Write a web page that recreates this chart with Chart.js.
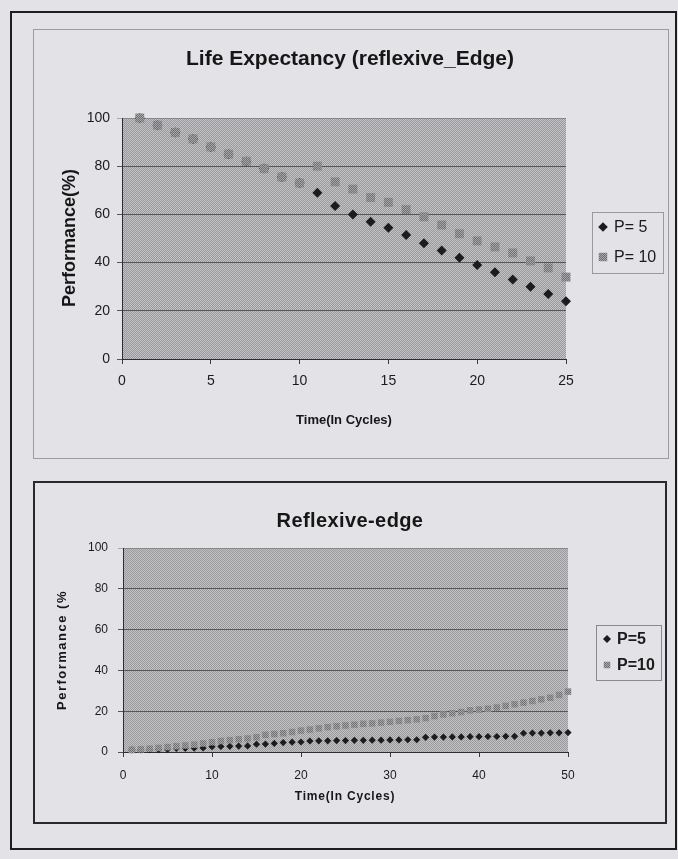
<!DOCTYPE html>
<html>
<head>
<meta charset="utf-8">
<title>Life Expectancy / Reflexive-edge</title>
<script src="https://cdn.jsdelivr.net/npm/chart.js@4/dist/chart.umd.min.js"></script>
<style>
  html, body { margin: 0; padding: 0; background: #e3e3e7; }
  body { width: 678px; height: 859px; position: relative; overflow: hidden; }
  .frame { position: absolute; box-sizing: border-box; }
  #outer { left: 10px; top: 11px; width: 667px; height: 839px; border: 2px solid #1e1e1e; }
  #box1 { left: 33px; top: 29px; width: 636px; height: 430px; border: 1px solid #9c9c9e; }
  #box2 { left: 33px; top: 481px; width: 634px; height: 343px; border: 2px solid #2a2a2a; }
  canvas { position: absolute; }
  #lifeChart { left: 34px; top: 30px; }
  #reflexChart { left: 35px; top: 482px; }
</style>
</head>
<body>
<div class="frame" id="outer"></div>
<div class="frame" id="box1"></div>
<div class="frame" id="box2"></div>
<canvas id="lifeChart" width="633" height="427"></canvas>
<canvas id="reflexChart" width="630" height="340"></canvas>
<script>
// ---- data ----
const lifeCycles = [1, 2, 3, 4, 5, 6, 7, 8, 9, 10, 11, 12, 13, 14, 15, 16, 17, 18, 19, 20, 21, 22, 23, 24, 25];
const lifeP5  = [100, 97, 94, 91.3, 88, 85, 82, 79, 75.5, 73, 69, 63.5, 60, 57, 54.5, 51.5, 48, 45, 42, 39, 36, 33, 30, 27, 24];
const lifeP10 = [100, 97, 94, 91.3, 88, 85, 82, 79, 75.5, 73, 80, 73.5, 70.5, 67, 65, 62, 59, 55.6, 52, 49, 46.5, 44, 40.7, 37.8, 34];

const reflexCycles = [1, 2, 3, 4, 5, 6, 7, 8, 9, 10, 11, 12, 13, 14, 15, 16, 17, 18, 19, 20, 21, 22, 23, 24, 25,
                      26, 27, 28, 29, 30, 31, 32, 33, 34, 35, 36, 37, 38, 39, 40, 41, 42, 43, 44, 45, 46, 47, 48, 49, 50];
const reflexP5  = [1.0, 1.0, 1.1, 1.2, 1.3, 1.8, 1.8, 1.9, 2.0, 2.6, 2.7, 2.8, 2.9, 3.0, 3.8, 3.9, 4.2, 4.6, 4.8, 4.9,
                   5.4, 5.5, 5.5, 5.6, 5.6, 5.7, 5.7, 5.8, 5.8, 5.9, 5.9, 6.0, 6.0, 7.2, 7.3, 7.3, 7.4, 7.4, 7.5, 7.5,
                   7.6, 7.6, 7.7, 7.7, 9.2, 9.3, 9.3, 9.4, 9.4, 9.5];
const reflexP10 = [1.0, 1.3, 1.6, 2.0, 2.4, 2.8, 3.2, 3.6, 4.2, 4.8, 5.4, 5.8, 6.2, 6.6, 7.2, 8.4, 8.8, 9.2, 9.8, 10.5,
                   11.0, 11.6, 12.2, 12.6, 13.0, 13.4, 13.8, 14.0, 14.4, 14.8, 15.2, 15.6, 16.0, 16.6, 17.6, 18.4, 19.0, 19.6, 20.4, 20.8,
                   21.2, 21.8, 22.6, 23.4, 24.2, 25.0, 25.8, 26.6, 28.0, 29.6];

const perfTicks = [0, 20, 40, 60, 80, 100];
const lifeTimeTicks = [0, 5, 10, 15, 20, 25];
const reflexTimeTicks = [0, 10, 20, 30, 40, 50];

// ---- styling helpers ----
const FONT = '"Liberation Sans", Arial, Helvetica, sans-serif';
Chart.defaults.font.family = FONT;
Chart.defaults.color = '#1b1b1b';

function makePattern(base, ink, size) {
  const c = document.createElement('canvas');
  c.width = c.height = size;
  const g = c.getContext('2d');
  g.fillStyle = base;
  g.fillRect(0, 0, size, size);
  g.fillStyle = ink;
  for (let i = 0; i < size; i++) {
    g.fillRect(i, size - 1 - i, 1, 1);
    g.fillRect((i + 2) % size, size - 1 - i, 1, 1);
  }
  return g.createPattern(c, 'repeat');
}
const plotPattern = makePattern('#c2c2c4', '#9a9a9c', 4);
const markerPattern = makePattern('#a8a8aa', '#6e6e70', 4);

function toPoints(xs, ys) {
  return xs.map((x, i) => ({ x: x, y: ys[i] }));
}

// hatched plot-area background
const plotFill = {
  id: 'plotFill',
  beforeDraw(chart) {
    const { ctx, chartArea: a } = chart;
    ctx.save();
    ctx.fillStyle = plotPattern;
    ctx.fillRect(a.left, a.top, a.right - a.left, a.bottom - a.top);
    ctx.restore();
  }
};

function drawMarker(ctx, style, x, y, r, fill) {
  ctx.beginPath();
  if (style === 'rectRot') {
    ctx.moveTo(x, y - r); ctx.lineTo(x + r, y); ctx.lineTo(x, y + r); ctx.lineTo(x - r, y);
  } else {
    const s = Math.SQRT1_2 * r;
    ctx.rect(x - s, y - s, 2 * s, 2 * s);
  }
  ctx.closePath();
  ctx.fillStyle = fill;
  ctx.fill();
}

// framed legend to the right of the plot
const boxLegend = {
  id: 'boxLegend',
  afterDraw(chart, args, o) {
    const ctx = chart.ctx;
    ctx.save();
    ctx.strokeStyle = o.border;
    ctx.lineWidth = 1;
    ctx.strokeRect(o.x + 0.5, o.y + 0.5, o.w, o.h);
    ctx.font = o.font;
    ctx.textBaseline = 'middle';
    chart.data.datasets.forEach((ds, i) => {
      const ry = o.rows[i];
      drawMarker(ctx, ds.pointStyle, o.markerX, ry, o.markerR[i], ds.pointBackgroundColor);
      ctx.fillStyle = '#1b1b1b';
      ctx.fillText(ds.label, o.textX, ry + 1);
    });
    ctx.restore();
  }
};

// chart title and axis titles, with optional letter spacing
const textLabels = {
  id: 'textLabels',
  afterDraw(chart, args, o) {
    const ctx = chart.ctx;
    o.items.forEach(t => {
      ctx.save();
      ctx.font = t.font;
      ctx.fillStyle = '#161616';
      ctx.textAlign = 'center';
      ctx.textBaseline = 'middle';
      if ('letterSpacing' in ctx) ctx.letterSpacing = (t.spacing || 0) + 'px';
      ctx.translate(t.x, t.y);
      if (t.rotate) ctx.rotate(t.rotate);
      ctx.fillText(t.text, 0, 0);
      ctx.restore();
    });
  }
};

function buildChart(el, cfg) {
  return new Chart(el, {
    type: 'scatter',
    data: {
      datasets: [
        {
          label: cfg.labels[0],
          data: toPoints(cfg.xs, cfg.p5),
          pointStyle: 'rectRot',
          pointRadius: cfg.r5,
          pointBackgroundColor: '#1c1c1e',
          pointBorderWidth: 0,
          clip: false,
          order: 2
        },
        {
          label: cfg.labels[1],
          data: toPoints(cfg.xs, cfg.p10),
          pointStyle: 'rect',
          pointRadius: cfg.r10,
          pointBackgroundColor: markerPattern,
          pointBorderWidth: 0,
          clip: false,
          order: 1
        }
      ]
    },
    options: {
      responsive: false,
      animation: false,
      events: [],
      layout: { padding: { left: 0, top: cfg.padTop, right: cfg.padRight, bottom: 0 } },
      plugins: {
        legend: { display: false },
        tooltip: { enabled: false },
        title: { display: false },
        boxLegend: cfg.legend,
        textLabels: { items: cfg.texts }
      },
      scales: {
        x: {
          type: 'linear',
          min: 0,
          max: cfg.xMax,
          afterBuildTicks: (s) => { s.ticks = cfg.xTicks.map(v => ({ value: v })); },
          afterFit: (s) => { s.height = cfg.xHeight; },
          grid: { drawOnChartArea: false, drawTicks: true, tickLength: 5, color: '#3a3a3a' },
          border: { display: true, color: '#2e2e2e', width: 1 },
          ticks: { padding: cfg.xTickPad, font: { size: cfg.tickSize }, color: '#1b1b1b', maxRotation: 0 }
        },
        y: {
          type: 'linear',
          min: 0,
          max: 100,
          afterBuildTicks: (s) => { s.ticks = perfTicks.map(v => ({ value: v })); },
          afterFit: (s) => { s.width = cfg.yWidth; },
          grid: {
            drawTicks: true,
            tickLength: 5,
            color: (c) => (c.tick && c.tick.value === 100) ? 'rgba(80,80,82,0.4)' : '#55555a',
            lineWidth: 1
          },
          border: { display: true, color: '#2e2e2e', width: 1 },
          ticks: { padding: cfg.yTickPad, font: { size: cfg.tickSize }, color: '#1b1b1b' }
        }
      }
    },
    plugins: [plotFill, boxLegend, textLabels]
  });
}

buildChart(document.getElementById('lifeChart'), {
  labels: ['P= 5', 'P= 10'],
  xs: lifeCycles, p5: lifeP5, p10: lifeP10,
  r5: 5, r10: 6.3,
  xMax: 25, xTicks: lifeTimeTicks,
  padTop: 88, padRight: 101,
  xHeight: 98, xTickPad: 9,
  yWidth: 88, yTickPad: 7,
  tickSize: 14,
  texts: [
    { text: 'Life Expectancy (reflexive_Edge)', x: 316, y: 29, font: 'bold 21px ' + FONT },
    { text: 'Performance(%)', x: 36, y: 208, rotate: -Math.PI / 2, font: 'bold 18px ' + FONT },
    { text: 'Time(In Cycles)', x: 310, y: 390, font: 'bold 13px ' + FONT }
  ],
  legend: { x: 558, y: 182, w: 71, h: 61, rows: [197, 227], markerX: 569, markerR: [4.8, 6], textX: 580, font: '16px ' + FONT, border: '#9a9a9c' }
});

buildChart(document.getElementById('reflexChart'), {
  labels: ['P=5', 'P=10'],
  xs: reflexCycles, p5: reflexP5, p10: reflexP10,
  r5: 3.6, r10: 4.6,
  xMax: 50, xTicks: reflexTimeTicks,
  padTop: 66, padRight: 97,
  xHeight: 70, xTickPad: 11,
  yWidth: 88, yTickPad: 10,
  tickSize: 12,
  texts: [
    { text: 'Reflexive-edge', x: 315, y: 39, font: 'bold 20px ' + FONT, spacing: 0.4 },
    { text: 'Performance (%', x: 27, y: 168, rotate: -Math.PI / 2, font: 'bold 13px ' + FONT, spacing: 1.5 },
    { text: 'Time(In Cycles)', x: 310, y: 315, font: 'bold 12px ' + FONT, spacing: 0.8 }
  ],
  legend: { x: 561, y: 143, w: 65, h: 55, rows: [157, 183], markerX: 572, markerR: [4, 4.6], textX: 582, font: 'bold 16px ' + FONT, border: '#8a8a8c' }
});
</script>
</body>
</html>
